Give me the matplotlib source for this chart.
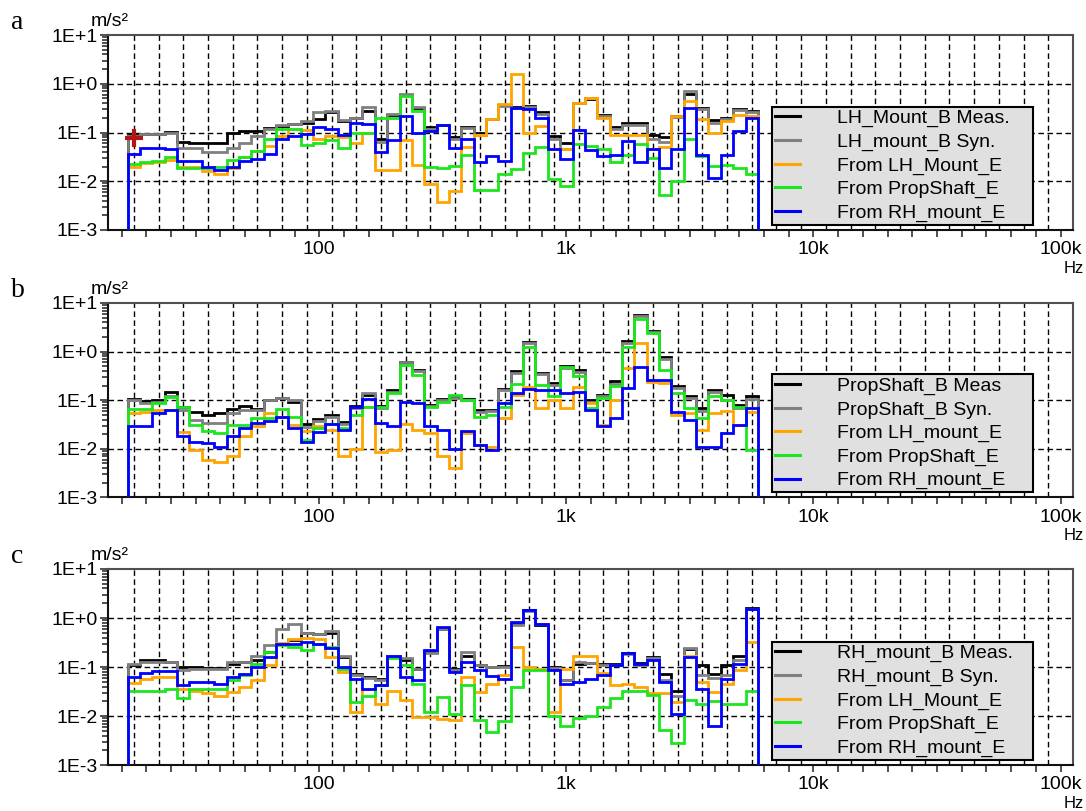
import numpy as np
import matplotlib.pyplot as plt
from matplotlib.lines import Line2D
from matplotlib.ticker import FixedLocator, FixedFormatter, FuncFormatter, LogLocator, NullFormatter

plt.rcParams['font.family'] = ['Liberation Sans', 'DejaVu Sans']

# 1/6-octave bands, centres 17.8 Hz ... 5.6 kHz
n_bands = 51
edges = 10 ** (1.225 + 0.05 * np.arange(n_bands + 1))

# ---- panel a : LH_Mount_B ----
black_a = [0.088, 0.095, 0.095, 0.103, 0.065, 0.062, 0.062, 0.062, 0.1, 0.105, 0.108, 0.125, 0.135, 0.15, 0.16, 0.19,
           0.26, 0.17, 0.2, 0.28, 0.075, 0.23, 0.58, 0.32, 0.13, 0.145, 0.082, 0.13, 0.097, 0.19, 0.36, 0.33,
           0.35, 0.26, 0.084, 0.06, 0.41, 0.48, 0.23, 0.13, 0.155, 0.155, 0.087, 0.08, 0.22, 0.62, 0.32, 0.18, 0.2, 0.3, 0.28]
gray_a = [0.085, 0.093, 0.093, 0.1, 0.049, 0.047, 0.039, 0.039, 0.049, 0.062, 0.085, 0.12, 0.145, 0.15, 0.17, 0.26,
          0.28, 0.18, 0.2, 0.33, 0.065, 0.24, 0.62, 0.33, 0.12, 0.14, 0.075, 0.125, 0.09, 0.185, 0.35, 0.32,
          0.34, 0.24, 0.072, 0.045, 0.4, 0.52, 0.22, 0.12, 0.14, 0.145, 0.075, 0.065, 0.21, 0.72, 0.3, 0.16, 0.19, 0.29, 0.26]
orange_a = [0.02, 0.024, 0.025, 0.027, 0.02, 0.02, 0.016, 0.014, 0.019, 0.031, 0.042, 0.053, 0.085, 0.12, 0.11, 0.075,
            0.085, 0.08, 0.06, 0.1, 0.017, 0.017, 0.07, 0.022, 0.0086, 0.0037, 0.0062, 0.05, 0.09, 0.19, 0.39, 1.55,
            0.098, 0.135, 0.045, 0.045, 0.41, 0.516, 0.2, 0.091, 0.091, 0.09, 0.045, 0.05, 0.217, 0.44, 0.185, 0.098, 0.17, 0.234, 0.217]
green_a = [0.023, 0.025, 0.026, 0.031, 0.019, 0.019, 0.019, 0.02, 0.027, 0.032, 0.042, 0.075, 0.12, 0.12, 0.055, 0.06,
           0.07, 0.048, 0.1, 0.1, 0.2, 0.2, 0.56, 0.28, 0.02, 0.019, 0.021, 0.035, 0.0065, 0.0065, 0.014, 0.018,
           0.038, 0.051, 0.011, 0.008, 0.057, 0.052, 0.045, 0.025, 0.035, 0.057, 0.03, 0.0053, 0.01, 0.072, 0.033, 0.021, 0.022, 0.019, 0.014]
blue_a = [0.037, 0.047, 0.047, 0.045, 0.026, 0.026, 0.02, 0.0168, 0.02, 0.026, 0.028, 0.036, 0.073, 0.085, 0.095, 0.13,
          0.12, 0.09, 0.155, 0.15, 0.04, 0.07, 0.216, 0.1, 0.108, 0.145, 0.048, 0.075, 0.025, 0.033, 0.026, 0.32,
          0.3, 0.2, 0.045, 0.028, 0.112, 0.043, 0.033, 0.035, 0.066, 0.025, 0.045, 0.019, 0.045, 0.32, 0.035, 0.0117, 0.035, 0.106, 0.2]

# ---- panel b : PropShaft_B ----
black_b = [0.105, 0.095, 0.1, 0.15, 0.071, 0.056, 0.05, 0.054, 0.065, 0.077, 0.065, 0.1, 0.113, 0.09, 0.033, 0.041, 0.05,
           0.035, 0.075, 0.13, 0.075, 0.16, 0.62, 0.42, 0.08, 0.107, 0.115, 0.107, 0.063, 0.063, 0.17, 0.39, 1.6,
           0.37, 0.23, 0.5, 0.41, 0.1, 0.13, 0.25, 1.65, 5.7, 2.7, 0.76, 0.2, 0.12, 0.068, 0.16, 0.13, 0.08, 0.12]
gray_b = [0.1, 0.087, 0.094, 0.12, 0.063, 0.039, 0.034, 0.034, 0.054, 0.063, 0.063, 0.1, 0.113, 0.1, 0.028, 0.037, 0.046,
          0.033, 0.07, 0.14, 0.07, 0.15, 0.6, 0.4, 0.075, 0.1, 0.11, 0.1, 0.058, 0.06, 0.16, 0.36, 1.5,
          0.34, 0.21, 0.47, 0.38, 0.09, 0.12, 0.22, 1.5, 5.3, 2.5, 0.7, 0.18, 0.11, 0.06, 0.15, 0.1, 0.07, 0.105]
orange_b = [0.054, 0.058, 0.063, 0.063, 0.022, 0.0095, 0.006, 0.0053, 0.007, 0.018, 0.029, 0.054, 0.046, 0.031, 0.023, 0.029, 0.025,
            0.007, 0.01, 0.074, 0.0088, 0.0095, 0.033, 0.025, 0.021, 0.007, 0.004, 0.021, 0.012, 0.011, 0.043, 0.13, 0.19,
            0.07, 0.1, 0.068, 0.19, 0.087, 0.031, 0.1, 0.45, 1.5, 0.24, 0.23, 0.05, 0.054, 0.025, 0.054, 0.06, 0.031, 0.058]
green_b = [0.066, 0.066, 0.087, 0.119, 0.074, 0.031, 0.023, 0.021, 0.031, 0.031, 0.043, 0.043, 0.066, 0.046, 0.015, 0.027, 0.033,
           0.027, 0.05, 0.074, 0.074, 0.14, 0.53, 0.33, 0.074, 0.094, 0.13, 0.1, 0.046, 0.05, 0.074, 0.22, 1.27,
           0.21, 0.12, 0.49, 0.32, 0.068, 0.11, 0.2, 1.27, 4.6, 2.4, 0.42, 0.14, 0.068, 0.043, 0.12, 0.1, 0.074, 0.0095]
blue_b = [0.029, 0.03, 0.054, 0.063, 0.018, 0.014, 0.013, 0.011, 0.018, 0.027, 0.034, 0.037, 0.046, 0.027, 0.014, 0.022, 0.033,
          0.025, 0.074, 0.105, 0.034, 0.029, 0.094, 0.087, 0.029, 0.025, 0.01, 0.023, 0.012, 0.0095, 0.087, 0.144, 0.168,
          0.16, 0.16, 0.14, 0.15, 0.063, 0.03, 0.043, 0.18, 0.49, 0.26, 0.26, 0.058, 0.039, 0.011, 0.011, 0.021, 0.031, 0.068]

# ---- panel c : RH_mount_B ----
black_c = [0.108, 0.137, 0.137, 0.125, 0.1, 0.1, 0.097, 0.095, 0.117, 0.125, 0.14, 0.2, 0.29, 0.36, 0.49, 0.48, 0.5,
           0.16, 0.072, 0.063, 0.058, 0.16, 0.14, 0.092, 0.2, 0.6, 0.09, 0.17, 0.108, 0.1, 0.105, 0.75, 1.45,
           0.71, 0.1, 0.054, 0.117, 0.12, 0.117, 0.117, 0.19, 0.12, 0.16, 0.073, 0.033, 0.23, 0.108, 0.071, 0.108, 0.165, 1.6]
gray_c = [0.117, 0.126, 0.126, 0.126, 0.085, 0.092, 0.092, 0.092, 0.126, 0.126, 0.17, 0.28, 0.6, 0.74, 0.5, 0.48, 0.55,
          0.17, 0.07, 0.06, 0.055, 0.17, 0.15, 0.09, 0.19, 0.6, 0.085, 0.2, 0.11, 0.1, 0.1, 0.72, 1.42,
          0.74, 0.095, 0.054, 0.126, 0.12, 0.11, 0.11, 0.18, 0.11, 0.15, 0.054, 0.026, 0.24, 0.07, 0.06, 0.07, 0.14, 1.55]
orange_c = [0.047, 0.058, 0.064, 0.064, 0.036, 0.033, 0.029, 0.026, 0.031, 0.039, 0.054, 0.108, 0.31, 0.38, 0.4, 0.38, 0.16,
            0.079, 0.012, 0.035, 0.018, 0.032, 0.021, 0.0095, 0.0095, 0.0088, 0.0082, 0.063, 0.031, 0.046, 0.068, 0.26, 0.1,
            0.092, 0.012, 0.092, 0.165, 0.165, 0.075, 0.042, 0.045, 0.039, 0.029, 0.029, 0.019, 0.17, 0.049, 0.031, 0.045, 0.085, 0.32]
green_c = [0.032, 0.032, 0.032, 0.035, 0.023, 0.035, 0.035, 0.035, 0.054, 0.068, 0.117, 0.2, 0.28, 0.26, 0.22, 0.3, 0.26,
           0.092, 0.019, 0.026, 0.042, 0.15, 0.108, 0.046, 0.012, 0.024, 0.011, 0.042, 0.0082, 0.0047, 0.0079, 0.039, 0.085,
           0.085, 0.01, 0.0062, 0.0092, 0.01, 0.015, 0.023, 0.032, 0.032, 0.027, 0.0051, 0.0028, 0.021, 0.018, 0.02, 0.018, 0.018, 0.032]
blue_c = [0.063, 0.075, 0.083, 0.083, 0.042, 0.049, 0.049, 0.044, 0.063, 0.073, 0.1, 0.16, 0.29, 0.3, 0.32, 0.3, 0.25,
          0.1, 0.058, 0.036, 0.042, 0.17, 0.063, 0.055, 0.22, 0.66, 0.079, 0.126, 0.085, 0.066, 0.058, 0.83, 1.48,
          0.77, 0.085, 0.046, 0.049, 0.058, 0.068, 0.11, 0.19, 0.117, 0.137, 0.049, 0.011, 0.16, 0.036, 0.0062, 0.058, 0.117, 1.55]

labels_a = ['LH_Mount_B Meas.', 'LH_mount_B Syn.', 'From LH_Mount_E', 'From PropShaft_E', 'From RH_mount_E']
labels_b = ['PropShaft_B Meas', 'PropShaft_B Syn.', 'From LH_mount_E', 'From PropShaft_E', 'From RH_mount_E']
labels_c = ['RH_mount_B Meas.', 'RH_mount_B Syn.', 'From LH_Mount_E', 'From PropShaft_E', 'From RH_mount_E']

colors = ['#000000', '#808080', '#ffa500', '#1ee61e', '#0000ff']
grid_x = [10 ** (k / 10 + 0.05) for k in range(12, 50)]
minor_x = [10 ** (k / 10) for k in range(12, 51) if k % 10]

fig = plt.figure(figsize=(10.86, 8.11), dpi=100)


def panel(rect, series, labels, letter, cross=None):
    ax = fig.add_axes(rect)
    ax.set_xscale('log')
    ax.set_yscale('log')
    ax.set_xlim(10 ** 1.145, 10 ** 5.05)
    ax.set_ylim(1e-3, 1e1)
    dash = (0, (4, 2.5))
    ax.vlines(grid_x, 1e-3, 1e1, colors='black', linewidth=1.0, linestyles=dash, zorder=1)
    ax.hlines([1e-2, 1e-1, 1e0], 10 ** 1.145, 10 ** 5.05, colors='black', linewidth=1.0, linestyles=dash, zorder=1)
    for vals, c in zip(series, colors):
        ax.stairs(vals, edges, baseline=1e-4, color=c, linewidth=2.0, zorder=3)
    if cross is not None:
        ax.plot([cross[0]], [cross[1]], marker='+', color='#b41414', ms=13, mew=3, zorder=5)

    ax.xaxis.set_major_locator(FixedLocator([1e2, 1e3, 1e4, 1e5]))
    ax.xaxis.set_major_formatter(FixedFormatter(['100', '1k', '10k', '100k']))
    ax.xaxis.set_minor_locator(FixedLocator(minor_x))
    ax.xaxis.set_minor_formatter(NullFormatter())
    ax.yaxis.set_major_locator(LogLocator(base=10, numticks=10))
    ax.yaxis.set_major_formatter(FuncFormatter(lambda v, p: '1E%+d' % int(round(np.log10(v)))))
    ax.yaxis.set_minor_locator(LogLocator(base=10, subs=np.arange(2, 10), numticks=20))
    ax.yaxis.set_minor_formatter(NullFormatter())
    ax.tick_params(which='both', direction='out', labelsize=14, width=1.2, color='#333333')
    ax.tick_params(axis='x', which='both', length=5, pad=3)
    ax.tick_params(axis='y', which='major', length=6, pad=1.5)
    ax.tick_params(axis='y', which='minor', length=4)
    for s in ['left', 'bottom']:
        ax.spines[s].set_color('#111111')
        ax.spines[s].set_linewidth(1.5)
    for s in ['top', 'right']:
        ax.spines[s].set_color('#505050')
        ax.spines[s].set_linewidth(1.5)

    handles = [Line2D([], [], color=c, linewidth=2.2) for c in colors]
    leg = ax.legend(handles, labels, loc='lower left', bbox_to_anchor=(0.688, 0.026, 0.2705, 0.5),
                    mode='expand', borderaxespad=0, fancybox=False, framealpha=1,
                    facecolor='#e0e0e0', edgecolor='black', fontsize=14, handlelength=1.3,
                    handletextpad=1.9, borderpad=0.15, labelspacing=0.3)
    leg.get_frame().set_linewidth(1.5)
    leg.set_zorder(6)

    ax.text(0.002, 1.068, 'm/s\u00b2', transform=ax.transAxes, ha='center', va='center', fontsize=14)
    ax.text(1.011, -0.195, 'Hz', transform=ax.transAxes, ha='right', va='center', fontsize=12)
    ax.text(-0.1, 1.03, letter, transform=ax.transAxes, ha='left', va='baseline',
            fontsize=20, family=['Liberation Serif', 'DejaVu Serif'])
    return ax


panel([0.0994, 0.7164, 0.8886, 0.2404], [black_a, gray_a, orange_a, green_a, blue_a], labels_a, 'a',
      cross=(10 ** 1.25, 0.076))
panel([0.0994, 0.3866, 0.8886, 0.2398], [black_b, gray_b, orange_b, green_b, blue_b], labels_b, 'b')
panel([0.0994, 0.0567, 0.8886, 0.2417], [black_c, gray_c, orange_c, green_c, blue_c], labels_c, 'c')

fig.savefig('out.png', dpi=100)
